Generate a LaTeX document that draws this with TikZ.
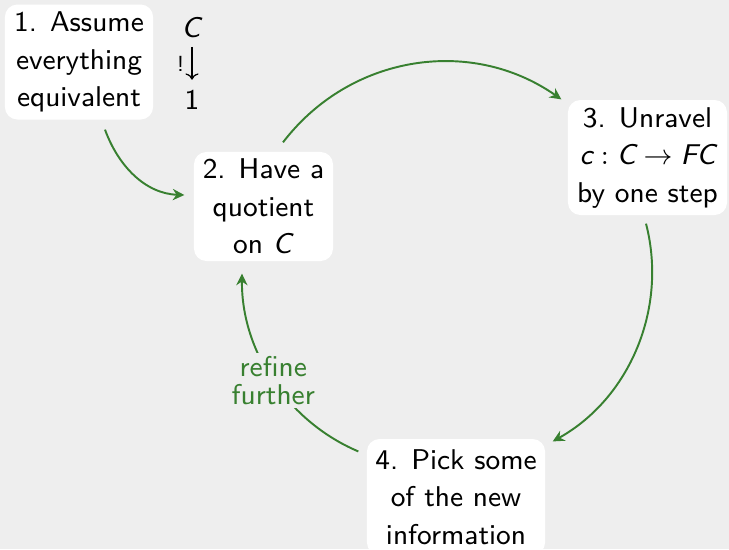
\documentclass[tikz,border=0pt]{standalone}
\usetikzlibrary{arrows.meta}
\definecolor{bg}{RGB}{238,238,238}
\definecolor{grn}{RGB}{56,128,48}
\begin{document}
\begin{tikzpicture}[x=0.32pt,y=-0.32pt, font=\sffamily\fontsize{9.15}{12}\selectfont,
  box/.style={fill=white, rounded corners=4pt, align=center, inner sep=0pt},
  arr/.style={draw=grn, line width=0.62pt, -{Stealth[length=3.7pt,width=3.6pt,inset=1.2pt]}},
  lbl/.style={fill=bg, text=grn, align=center, inner sep=1pt, font=\sffamily\fontsize{9.15}{9}\selectfont}]
\fill[bg] (0,0) rectangle (729,549);
\useasboundingbox (0,0) rectangle (729,549);
\node[box, minimum width=47.4pt, minimum height=36.8pt] (b1) at (79,62) {1. Assume\\everything\\equivalent};
\node[box, minimum width=44.5pt, minimum height=34.9pt] (b2) at (263.5,206.5) {2. Have a\\quotient\\on \textit{C}};
\node[box, minimum width=50.9pt, minimum height=36.8pt] (b3) at (647.5,157.5) {3. Unravel\\$\textit{c} : \textit{C} \to \textit{FC}$\\by one step};
\node[box, minimum width=57pt, minimum height=37.1pt] (b4) at (456,497) {4. Pick some\\of the new\\information};
\node (C) at (192,28) {\textit{C}};
\node (one) at (192,100) {1};
\draw[-{To[length=2pt]}, line width=0.4pt, shorten <=6pt, shorten >=6.5pt] (C.center) -- node[left, inner sep=2.3pt, font=\sffamily\scriptsize] {!} (one.center);
\draw[arr] ([shift={(26,9.5)}]b1.south) to[out=-70, in=178, looseness=0.97] ([shift={(-9,-11.5)}]b2.west);
\draw[arr] ([shift={(19.5,-9)}]b2.north) to[out=52.6, in=145] ([shift={(-6,0)}]b3.north west);
\draw[arr] ([shift={(-1.5,8)}]b3.south) to[out=-75.5, in=29.2, looseness=0.95] ([shift={(7,3)}]b4.north east);
\draw[arr] ([shift={(-8,13)}]b4.north west) to[out=157, in=-90.6, looseness=0.93] node[lbl, pos=0.5] {refine\\further} ([shift={(-21.5,12)}]b2.south);
\end{tikzpicture}
\end{document}
